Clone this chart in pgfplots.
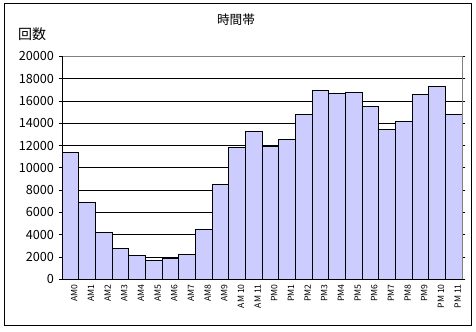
\documentclass[border=0pt]{standalone}
\usepackage{fontspec}
\setmainfont{Noto Sans CJK JP}
\usepackage{pgfplots}
\pgfplotsset{compat=1.18}
\definecolor{barfill}{RGB}{204,204,255}
\begin{document}
\begin{tikzpicture}
\useasboundingbox (0,0) rectangle (357pt,249pt);
\fill[white] (0,0) rectangle (357pt,249pt);
\draw[black,line width=0.75pt] (3pt,4.5pt) rectangle (353.25pt,246pt);
\node[font=\fontsize{9.5}{10}\selectfont] at (177pt,234pt) {時間帯};
\node[font=\fontsize{10.5}{11}\selectfont] at (24pt,223.5pt) {回数};
\begin{axis}[
  at={(46.5pt,39.5pt)}, anchor=south west,
  width=300pt, height=167.25pt, scale only axis,
  xmin=-0.5, xmax=23.5, ymin=0, ymax=20000,
  xtick={0,...,23},
  xticklabels={AM0,AM1,AM2,AM3,AM4,AM5,AM6,AM7,AM8,AM9,AM 10,AM 11,PM0,PM1,PM2,PM3,PM4,PM5,PM6,PM7,PM8,PM9,PM 10,PM 11},
  x tick label style={rotate=90, anchor=east, font=\fontsize{6.5}{7}\selectfont, inner sep=1pt, yshift=-3pt},
  xtick style={draw=none},
  ytick={0,2000,...,20000},
  scaled y ticks=false,
  y tick label style={font=\fontsize{9.5}{10}\selectfont},
  /pgf/number format/assume math mode=true,
  /pgf/number format/set thousands separator={},
  ytick style={black, line width=0.6pt},
  tick align=outside, major tick length=2.5pt,
  ymajorgrids, grid style={black, line width=0.6pt},
  axis line style={draw=none},
  clip=false,
]
\addplot[ybar, bar width=1, fill=barfill, draw=black, line width=0.75pt] coordinates {
(0,11400) (1,6900) (2,4200) (3,2800) (4,2100) (5,1700) (6,1900) (7,2200)
(8,4500) (9,8500) (10,11800) (11,13300) (12,11900) (13,12500) (14,14800) (15,16900)
(16,16700) (17,16800) (18,15500) (19,13400) (20,14200) (21,16600) (22,17300) (23,14800)
};
\draw[white, line width=1pt] (rel axis cs:0,1) -- (rel axis cs:1,1);
\draw[gray, line width=0.75pt] (rel axis cs:0,1) -- (rel axis cs:1,1) -- (rel axis cs:1,0);
\draw[black, line width=0.75pt] (rel axis cs:0,1) -- (rel axis cs:0,0) -- (rel axis cs:1,0);
\end{axis}
\end{tikzpicture}
\end{document}
